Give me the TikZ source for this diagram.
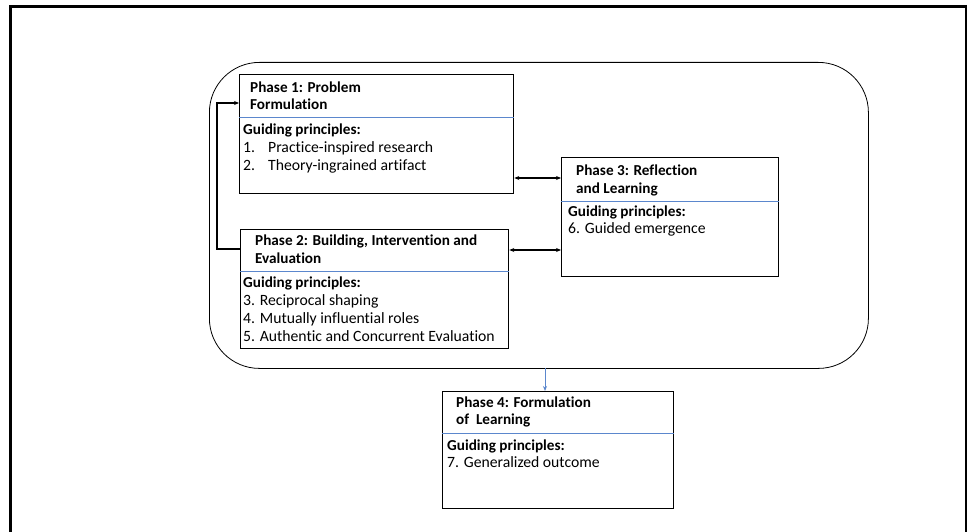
\documentclass[tikz,border=0pt]{standalone}
\usepackage{fontspec}
\setmainfont{Carlito}[RawFeature={-liga}]
\usetikzlibrary{arrows.meta,calc}
\definecolor{sepblue}{RGB}{91,135,205}
\tikzset{
  phasebox/.style={draw=black, line width=1.3pt, anchor=north west, inner sep=0pt},
  sepline/.style={draw=sepblue, line width=0.9pt},
  txt/.style={anchor=base west, inner sep=0pt, font=\fontsize{15.7}{18}\selectfont},
  hdr/.style={anchor=base west, inner sep=0pt, font=\fontsize{15.2}{18}\selectfont\bfseries},
  conn/.style={draw=black, line width=1.3pt, -{Stealth[length=5pt,width=4pt]}},
  dconn/.style={draw=black, line width=1.3pt, {Stealth[length=5pt,width=4pt]}-{Stealth[length=5pt,width=4pt]}},
}
\begin{document}
\begin{tikzpicture}[x=1pt,y=-1pt]
\useasboundingbox (0,0) rectangle (968,532);
% outer frame (open at the bottom)
\draw[line width=3pt] (10.5,532) -- (10.5,6.5) -- (966,6.5);
\draw[line width=2pt] (966,5) -- (966,532);
% rounded container
\node[draw=black, line width=0.8pt, rounded corners=50pt, minimum width=659pt, minimum height=306pt, anchor=north west, inner sep=0pt] (outer) at (209,62) {};
% boxes
\node[phasebox, minimum width=274pt, minimum height=119pt] (p1) at (239,74) {};
\node[phasebox, minimum width=217pt, minimum height=119pt] (p3) at (561,157) {};
\node[phasebox, minimum width=268pt, minimum height=119pt] (p2) at (240,229) {};
\node[phasebox, minimum width=231pt, minimum height=117pt] (p4) at (442,391) {};
% separators
\draw[sepline] ([yshift=-43pt]p1.north west) -- ([yshift=-43pt]p1.north east);
\draw[sepline] ([yshift=-44pt]p3.north west) -- ([yshift=-44pt]p3.north east);
\draw[sepline] ([yshift=-42pt]p2.north west) -- ([yshift=-42pt]p2.north east);
\draw[sepline] ([yshift=-42pt]p4.north west) -- ([yshift=-42pt]p4.north east);
% Phase 1 text
\node[hdr] (t1a) at (250,93) {Phase 1: Problem};
\node[hdr] (t1b) at (250,110) {Formulation};
\node[hdr] (t1c) at (243,134) {Guiding principles:};
\node[txt] (t1d) at (243,152) {1.};
\node[txt] (t1e) at (268,152) {Practice-inspired research};
\node[txt] (t1f) at (243,170) {2.};
\node[txt] (t1g) at (268,170) {Theory-ingrained artifact};
% Phase 3 text
\node[hdr] (t3a) at (576,175) {Phase 3: Reflection};
\node[hdr] (t3b) at (576,193) {and Learning};
\node[hdr] (t3c) at (568,216) {Guiding principles:};
\node[txt] (t3d) at (568,233) {6. Guided emergence};
% Phase 2 text
\node[hdr] (t2a) at (255,245) {Phase 2: Building, Intervention and};
\node[hdr] (t2b) at (255,263) {Evaluation};
\node[hdr] (t2c) at (243,287) {Guiding principles:};
\node[txt] (t2d) at (243,305) {3. Reciprocal shaping};
\node[txt] (t2e) at (243,323) {4. Mutually influential roles};
\node[txt] (t2f) at (243,341) {5. Authentic and Concurrent Evaluation};
% Phase 4 text
\node[hdr] (t4a) at (456,407) {Phase 4: Formulation};
\node[hdr] (t4b) at (456,424) {of~ Learning};
\node[hdr] (t4c) at (447,450) {Guiding principles:};
\node[txt] (t4d) at (447,467) {7. Generalized outcome};
% connectors
\draw[conn] ([yshift=-20pt]p2.north west) -- ++(-23,0) |- ([yshift=-29pt]p1.north west);
\draw[dconn] ([yshift=-104pt]p1.north east) -- ([yshift=-104pt]p1.north east -| p3.west);
\draw[dconn] ([yshift=-21pt]p2.north east) -- ([yshift=-21pt]p2.north east -| p3.west);
\coordinate (a4) at (545,368);
\draw[draw=sepblue, line width=0.9pt, -{Stealth[length=5pt,width=4pt]}] (a4) -- (a4 |- p4.north);
\end{tikzpicture}
\end{document}
